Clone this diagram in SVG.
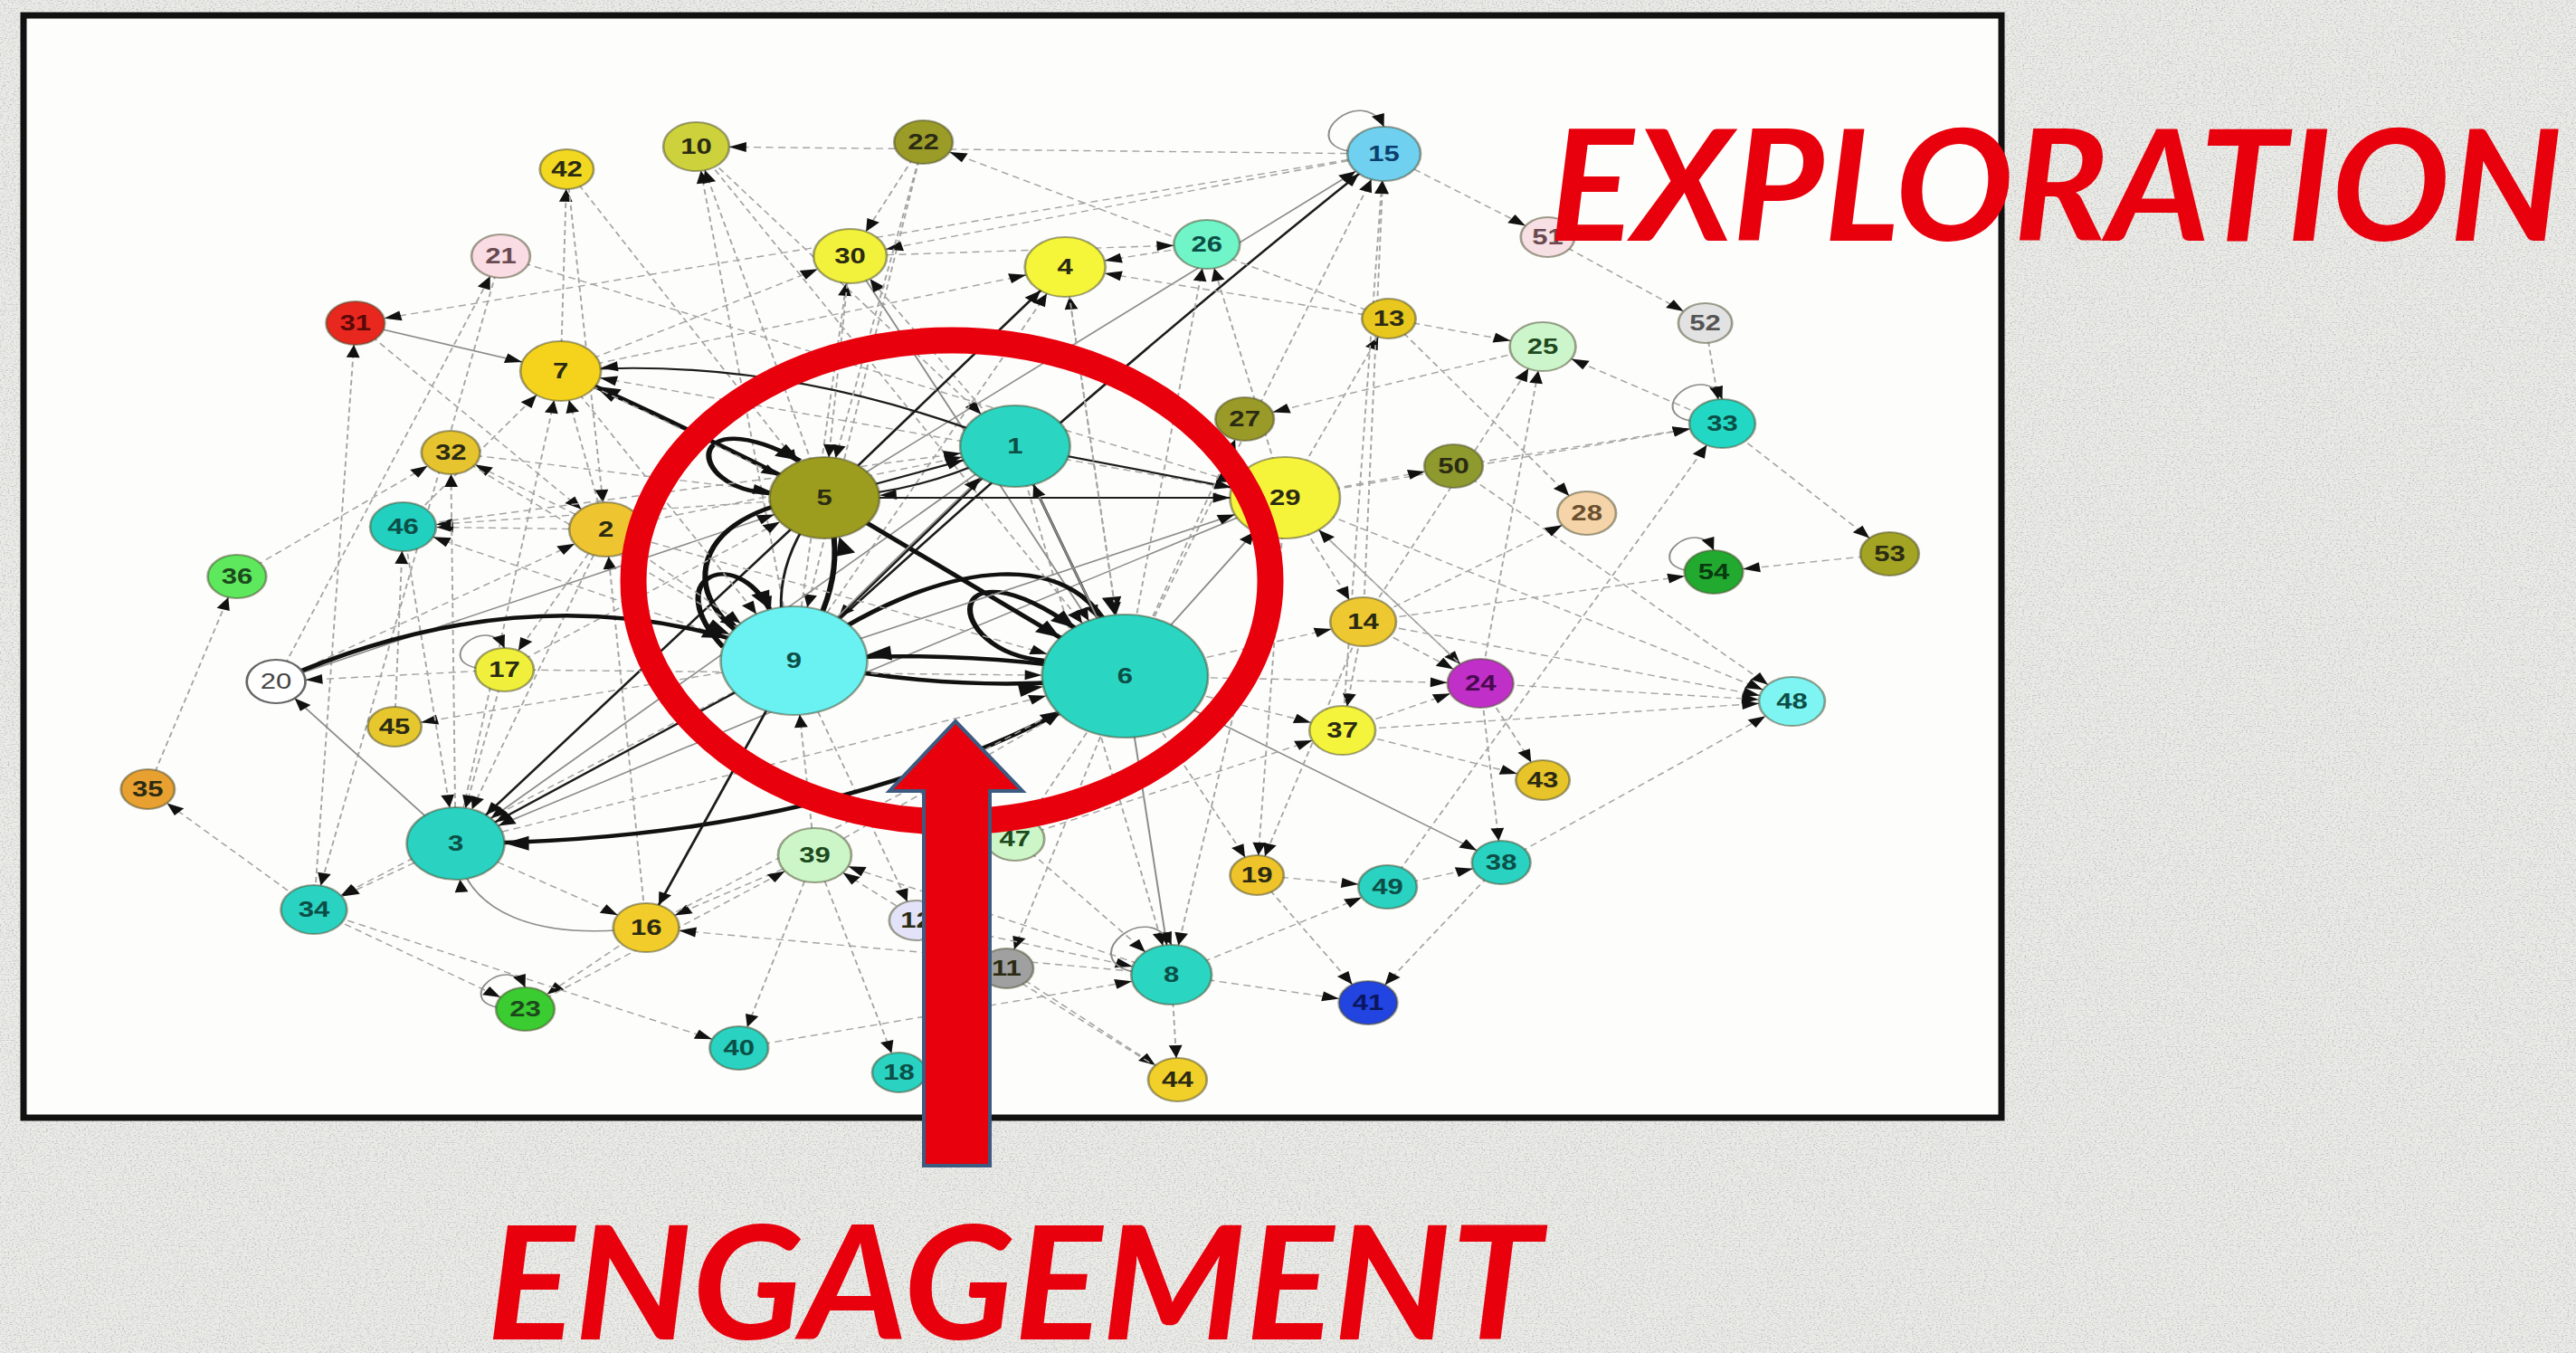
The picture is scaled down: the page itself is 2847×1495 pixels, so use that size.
<svg xmlns="http://www.w3.org/2000/svg" width="2847" height="1495" viewBox="0 0 2847 1495">
<defs>
  <filter id="grain" x="0" y="0" width="100%" height="100%">
    <feTurbulence type="fractalNoise" baseFrequency="0.45 0.85" numOctaves="3" seed="7" result="t"/>
    <feColorMatrix in="t" type="matrix" values="0 0 0 0 0.5  0 0 0 0 0.5  0 0 0 0 0.49  0 0 0 -2.4 1.25"/>
  </filter>
  <marker id="a0" viewBox="-15 -6 15 12" refX="0" refY="0" markerWidth="15" markerHeight="12" markerUnits="userSpaceOnUse" orient="auto"><path d="M0,0 L-14,-5.5 L-14,5.5z" fill="#111"/></marker>
  <marker id="a22" viewBox="-15 -6 15 12" refX="22" refY="0" markerWidth="15" markerHeight="12" markerUnits="userSpaceOnUse" orient="auto"><path d="M0,0 L-14,-5.5 L-14,5.5z" fill="#111"/></marker>
  <marker id="a24" viewBox="-15 -6 15 12" refX="24" refY="0" markerWidth="15" markerHeight="12" markerUnits="userSpaceOnUse" orient="auto"><path d="M0,0 L-14,-5.5 L-14,5.5z" fill="#111"/></marker>
  <marker id="a27" viewBox="-15 -6 15 12" refX="27" refY="0" markerWidth="15" markerHeight="12" markerUnits="userSpaceOnUse" orient="auto"><path d="M0,0 L-14,-5.5 L-14,5.5z" fill="#111"/></marker>
  <marker id="a30" viewBox="-15 -6 15 12" refX="30" refY="0" markerWidth="15" markerHeight="12" markerUnits="userSpaceOnUse" orient="auto"><path d="M0,0 L-14,-5.5 L-14,5.5z" fill="#111"/></marker>
  <marker id="a33" viewBox="-15 -6 15 12" refX="33" refY="0" markerWidth="15" markerHeight="12" markerUnits="userSpaceOnUse" orient="auto"><path d="M0,0 L-14,-5.5 L-14,5.5z" fill="#111"/></marker>
  <marker id="a40" viewBox="-15 -6 15 12" refX="40" refY="0" markerWidth="15" markerHeight="12" markerUnits="userSpaceOnUse" orient="auto"><path d="M0,0 L-14,-5.5 L-14,5.5z" fill="#111"/></marker>
  <marker id="a45" viewBox="-15 -6 15 12" refX="45" refY="0" markerWidth="15" markerHeight="12" markerUnits="userSpaceOnUse" orient="auto"><path d="M0,0 L-14,-5.5 L-14,5.5z" fill="#111"/></marker>
  <marker id="a60" viewBox="-15 -6 15 12" refX="60" refY="0" markerWidth="15" markerHeight="12" markerUnits="userSpaceOnUse" orient="auto"><path d="M0,0 L-14,-5.5 L-14,5.5z" fill="#111"/></marker>
  <marker id="a68" viewBox="-15 -6 15 12" refX="68" refY="0" markerWidth="15" markerHeight="12" markerUnits="userSpaceOnUse" orient="auto"><path d="M0,0 L-14,-5.5 L-14,5.5z" fill="#111"/></marker>
  <marker id="b0" viewBox="-22 -9 22 18" refX="0" refY="0" markerWidth="22" markerHeight="18" markerUnits="userSpaceOnUse" orient="auto"><path d="M0,0 L-20,-8 L-20,8z" fill="#111"/></marker>
  <marker id="b33" viewBox="-22 -9 22 18" refX="33" refY="0" markerWidth="22" markerHeight="18" markerUnits="userSpaceOnUse" orient="auto"><path d="M0,0 L-20,-8 L-20,8z" fill="#111"/></marker>
  <marker id="b40" viewBox="-22 -9 22 18" refX="40" refY="0" markerWidth="22" markerHeight="18" markerUnits="userSpaceOnUse" orient="auto"><path d="M0,0 L-20,-8 L-20,8z" fill="#111"/></marker>
  <marker id="b45" viewBox="-22 -9 22 18" refX="45" refY="0" markerWidth="22" markerHeight="18" markerUnits="userSpaceOnUse" orient="auto"><path d="M0,0 L-20,-8 L-20,8z" fill="#111"/></marker>
  <marker id="b60" viewBox="-22 -9 22 18" refX="60" refY="0" markerWidth="22" markerHeight="18" markerUnits="userSpaceOnUse" orient="auto"><path d="M0,0 L-20,-8 L-20,8z" fill="#111"/></marker>
  <marker id="b68" viewBox="-22 -9 22 18" refX="68" refY="0" markerWidth="22" markerHeight="18" markerUnits="userSpaceOnUse" orient="auto"><path d="M0,0 L-20,-8 L-20,8z" fill="#111"/></marker>
</defs>
<style>
  .e{fill:none;stroke:#a4a4a4;stroke-width:1.4;stroke-dasharray:6 4}
  .s{fill:none;stroke:#8c8c8c;stroke-width:1.5}
  .k{fill:none;stroke:#1c1c1c;stroke-width:2.2}
  .K{fill:none;stroke:#111;stroke-width:4.5}
  .node circle{stroke:rgba(70,70,40,.5);stroke-width:2}
  .node text{font-family:"Liberation Sans",Arial,sans-serif;font-size:23px;font-weight:bold;text-anchor:middle;dominant-baseline:central;fill:#2b2b14}
  .t text{fill:#0c4f47}
  .g text{fill:#1d4a1d}
  .b text{fill:#0b3f6e}
  .big{font-family:Lato,"Liberation Sans",Arial,sans-serif;font-weight:bold;font-style:italic;fill:#e8000c}
</style>

<!-- textured slide background -->
<rect x="0" y="0" width="2847" height="1495" fill="#ebebe8"/>
<rect x="0" y="0" width="2847" height="1495" filter="url(#grain)"/>

<!-- white panel holding the network -->
<rect x="26" y="17" width="2186" height="1218" fill="#fdfdfb" stroke="#111" stroke-width="7"/>

<!-- network: drawn with round nodes, stretched horizontally -->
<g transform="scale(1.35 1)">
<g id="edges">
<path class="e" d="M121 872 L194 637" marker-end="url(#a24)"/>
<path class="e" d="M257 1005 L121 872" marker-end="url(#a22)"/>
<path class="e" d="M373 932 L257 1005" marker-end="url(#a27)"/>
<path class="e" d="M650 730 L257 1005" marker-end="url(#a27)"/>
<path class="e" d="M410 283 L257 1005" marker-end="url(#a27)"/>
<path class="e" d="M257 1005 L430 1115" marker-end="url(#a24)"/>
<path class="e" d="M529 1025 L430 1115" marker-end="url(#a24)"/>
<path class="e" d="M373 932 L529 1025" marker-end="url(#a27)"/>
<path class="s" d="M529 1025 C440 1040 380 1010 373 932" marker-end="url(#a40)"/>
<path class="e" d="M257 1005 L605 1158" marker-end="url(#a24)"/>
<path class="e" d="M667 945 L605 1158" marker-end="url(#a24)"/>
<path class="e" d="M667 945 L529 1025" marker-end="url(#a27)"/>
<path class="e" d="M959 1077 L529 1025" marker-end="url(#a27)"/>
<path class="e" d="M650 730 L750 1017" marker-end="url(#a22)"/>
<path class="e" d="M667 945 L736 1185" marker-end="url(#a22)"/>
<path class="e" d="M921 747 L824 1070" marker-end="url(#a22)"/>
<path class="e" d="M824 1070 L964 1193" marker-end="url(#a24)"/>
<path class="e" d="M959 1077 L964 1193" marker-end="url(#a24)"/>
<path class="e" d="M831 493 L959 1077" marker-end="url(#a33)"/>
<path class="e" d="M1052 550 L959 1077" marker-end="url(#a33)"/>
<path class="s" d="M921 747 L959 1077" marker-end="url(#a33)"/>
<path class="e" d="M750 1017 L959 1077" marker-end="url(#a33)"/>
<path class="e" d="M605 1158 L959 1077" marker-end="url(#a33)"/>
<path class="e" d="M959 1077 L1120 1108" marker-end="url(#a24)"/>
<path class="e" d="M1229 953 L1120 1108" marker-end="url(#a24)"/>
<path class="e" d="M1029 967 L1120 1108" marker-end="url(#a24)"/>
<path class="e" d="M959 1077 L1136 980" marker-end="url(#a24)"/>
<path class="e" d="M1136 980 L1229 953" marker-end="url(#a24)"/>
<path class="e" d="M1212 755 L1229 953" marker-end="url(#a24)"/>
<path class="s" d="M921 747 L1229 953" marker-end="url(#a24)"/>
<path class="e" d="M1029 967 L1136 980" marker-end="url(#a24)"/>
<path class="e" d="M921 747 L1029 967" marker-end="url(#a22)"/>
<path class="e" d="M1116 687 L1029 967" marker-end="url(#a22)"/>
<path class="e" d="M1052 550 L1029 967" marker-end="url(#a22)"/>
<path class="e" d="M1099 807 L1263 862" marker-end="url(#a22)"/>
<path class="e" d="M1212 755 L1263 862" marker-end="url(#a22)"/>
<path class="e" d="M1116 687 L1099 807" marker-end="url(#a27)"/>
<path class="e" d="M921 747 L1099 807" marker-end="url(#a27)"/>
<path class="e" d="M831 927 L1099 807" marker-end="url(#a27)"/>
<path class="e" d="M1116 687 L1212 755" marker-end="url(#a27)"/>
<path class="e" d="M1099 807 L1212 755" marker-end="url(#a27)"/>
<path class="e" d="M1052 550 L1212 755" marker-end="url(#a27)"/>
<path class="e" d="M921 747 L1212 755" marker-end="url(#a27)"/>
<path class="e" d="M1212 755 L1467 775" marker-end="url(#a27)"/>
<path class="e" d="M1116 687 L1467 775" marker-end="url(#a27)"/>
<path class="e" d="M1052 550 L1467 775" marker-end="url(#a27)"/>
<path class="e" d="M1190 515 L1467 775" marker-end="url(#a27)"/>
<path class="e" d="M1229 953 L1467 775" marker-end="url(#a27)"/>
<path class="e" d="M1099 807 L1467 775" marker-end="url(#a27)"/>
<path class="e" d="M1052 550 L1116 687" marker-end="url(#a27)"/>
<path class="e" d="M921 747 L1116 687" marker-end="url(#a27)"/>
<path class="e" d="M1116 687 L1299 567" marker-end="url(#a24)"/>
<path class="e" d="M1137 352 L1299 567" marker-end="url(#a24)"/>
<path class="e" d="M1052 550 L1137 352" marker-end="url(#a22)"/>
<path class="e" d="M1190 515 L1410 468" marker-end="url(#a27)"/>
<path class="e" d="M1052 550 L1410 468" marker-end="url(#a27)"/>
<path class="e" d="M1136 980 L1410 468" marker-end="url(#a27)"/>
<path class="e" d="M1410 468 L1547 612" marker-end="url(#a24)"/>
<path class="e" d="M1547 612 L1403 632" marker-end="url(#a24)"/>
<path class="e" d="M1116 687 L1403 632" marker-end="url(#a24)"/>
<path class="e" d="M1396 357 L1410 468" marker-end="url(#a27)"/>
<path class="e" d="M1267 262 L1396 357" marker-end="url(#a22)"/>
<path class="e" d="M1133 170 L1267 262" marker-end="url(#a22)"/>
<path class="e" d="M1410 468 L1263 383" marker-end="url(#a27)"/>
<path class="e" d="M1137 352 L1263 383" marker-end="url(#a27)"/>
<path class="e" d="M1116 687 L1263 383" marker-end="url(#a27)"/>
<path class="e" d="M1212 755 L1263 383" marker-end="url(#a27)"/>
<path class="e" d="M1263 383 L1019 463" marker-end="url(#a24)"/>
<path class="e" d="M1052 550 L1190 515" marker-end="url(#a24)"/>
<path class="e" d="M1212 755 L1052 550" marker-end="url(#a45)"/>
<path class="e" d="M1116 687 L1133 170" marker-end="url(#a30)"/>
<path class="e" d="M1099 807 L1133 170" marker-end="url(#a30)"/>
<path class="e" d="M921 747 L1133 170" marker-end="url(#a30)"/>
<path class="k" d="M650 730 Q900 420 1133 170" marker-end="url(#a30)"/>
<path class="s" d="M675 550 L1133 170" marker-end="url(#a30)"/>
<path class="e" d="M1133 170 L570 162" marker-end="url(#a27)"/>
<path class="e" d="M1133 170 L291 357" marker-end="url(#a24)"/>
<path class="e" d="M1137 352 L872 295" marker-end="url(#a33)"/>
<path class="e" d="M988 270 L872 295" marker-end="url(#a33)"/>
<path class="e" d="M921 747 L988 270" marker-end="url(#a27)"/>
<path class="e" d="M1052 550 L988 270" marker-end="url(#a27)"/>
<path class="e" d="M696 283 L988 270" marker-end="url(#a27)"/>
<path class="e" d="M1137 352 L756 157" marker-end="url(#a24)"/>
<path class="e" d="M756 157 L696 283" marker-end="url(#a30)"/>
<path class="e" d="M756 157 L650 730" marker-end="url(#a60)"/>
<path class="e" d="M650 730 L570 162" marker-end="url(#a27)"/>
<path class="e" d="M675 550 L570 162" marker-end="url(#a27)"/>
<path class="e" d="M570 162 L831 493" marker-end="url(#a45)"/>
<path class="e" d="M570 162 L921 747" marker-end="url(#a68)"/>
<path class="e" d="M1133 170 L696 283" marker-end="url(#a30)"/>
<path class="e" d="M459 410 L696 283" marker-end="url(#a30)"/>
<path class="s" d="M696 283 L921 747" marker-end="url(#a68)"/>
<path class="e" d="M650 730 L696 283" marker-end="url(#a30)"/>
<path class="e" d="M831 493 L696 283" marker-end="url(#a30)"/>
<path class="k" d="M675 550 L872 295" marker-end="url(#a33)"/>
<path class="e" d="M650 730 L872 295" marker-end="url(#a33)"/>
<path class="e" d="M921 747 L872 295" marker-end="url(#a33)"/>
<path class="e" d="M459 410 L872 295" marker-end="url(#a33)"/>
<path class="s" d="M291 357 L459 410" marker-end="url(#a33)"/>
<path class="e" d="M291 357 L496 585" marker-end="url(#a30)"/>
<path class="e" d="M257 1005 L291 357" marker-end="url(#a24)"/>
<path class="e" d="M226 753 L410 283" marker-end="url(#a24)"/>
<path class="e" d="M410 283 L1052 550" marker-end="url(#a45)"/>
<path class="e" d="M459 410 L464 187" marker-end="url(#a22)"/>
<path class="e" d="M464 187 L675 550" marker-end="url(#a45)"/>
<path class="K" d="M675 550 Q560 470 459 410" marker-end="url(#b33)"/>
<path class="k" d="M831 493 Q640 390 459 410" marker-end="url(#a33)"/>
<path class="e" d="M1052 550 L459 410" marker-end="url(#a33)"/>
<path class="e" d="M496 585 L459 410" marker-end="url(#a33)"/>
<path class="e" d="M330 582 L459 410" marker-end="url(#a33)"/>
<path class="e" d="M373 932 L459 410" marker-end="url(#a33)"/>
<path class="e" d="M464 187 L496 585" marker-end="url(#a30)"/>
<path class="e" d="M496 585 L330 582" marker-end="url(#a27)"/>
<path class="e" d="M675 550 L330 582" marker-end="url(#a27)"/>
<path class="e" d="M650 730 L330 582" marker-end="url(#a27)"/>
<path class="e" d="M323 803 L330 582" marker-end="url(#a27)"/>
<path class="e" d="M373 932 L369 500" marker-end="url(#a24)"/>
<path class="e" d="M496 585 L369 500" marker-end="url(#a24)"/>
<path class="e" d="M194 637 L369 500" marker-end="url(#a24)"/>
<path class="e" d="M369 500 L675 550" marker-end="url(#a45)"/>
<path class="e" d="M226 753 L496 585" marker-end="url(#a30)"/>
<path class="e" d="M529 1025 L496 585" marker-end="url(#a30)"/>
<path class="e" d="M496 585 L413 740" marker-end="url(#a24)"/>
<path class="e" d="M413 740 L226 753" marker-end="url(#a24)"/>
<path class="s" d="M373 932 L226 753" marker-end="url(#a24)"/>
<path class="s" d="M226 753 L675 550" marker-end="url(#a45)"/>
<path class="e" d="M650 730 L323 803" marker-end="url(#a22)"/>
<path class="k" d="M650 730 L373 932" marker-end="url(#a40)"/>
<path class="k" d="M675 550 L373 932" marker-end="url(#a40)"/>
<path class="s" d="M831 493 L373 932" marker-end="url(#a40)"/>
<path class="s" d="M1052 550 L373 932" marker-end="url(#a40)"/>
<path class="K" d="M921 747 Q700 930 373 932" marker-end="url(#b40)"/>
<path class="e" d="M496 585 L373 932" marker-end="url(#a40)"/>
<path class="e" d="M413 740 L373 932" marker-end="url(#a40)"/>
<path class="e" d="M330 582 L373 932" marker-end="url(#a40)"/>
<path class="k" d="M650 730 L529 1025" marker-end="url(#a27)"/>
<path class="e" d="M959 1077 L667 945" marker-end="url(#a30)"/>
<path class="e" d="M964 1193 L667 945" marker-end="url(#a30)"/>
<path class="e" d="M430 1115 L667 945" marker-end="url(#a30)"/>
<path class="e" d="M667 945 L921 747" marker-end="url(#a68)"/>
<path class="e" d="M921 747 L831 927" marker-end="url(#a24)"/>
<path class="e" d="M831 927 L959 1077" marker-end="url(#a33)"/>
<!-- core cluster -->
<path class="K" d="M630 545 C560 540 560 440 655 509" marker-end="url(#b0)"/>
<path class="K" d="M592 715 C540 640 600 600 630 673" marker-end="url(#b0)"/>
<path class="K" d="M855 730 C770 720 770 590 880 694" marker-end="url(#b0)"/>
<path class="K" d="M650 730 Q700 640 675 550" marker-end="url(#b45)"/>
<path class="k" d="M675 550 Q620 640 650 730" marker-end="url(#a60)"/>
<path class="K" d="M675 550 C560 560 540 680 650 730" marker-end="url(#b60)"/>
<path class="K" d="M675 550 L921 747" marker-end="url(#b68)"/>
<path class="K" d="M650 730 Q790 770 921 747" marker-end="url(#b68)"/>
<path class="K" d="M921 747 Q790 715 650 730" marker-end="url(#b60)"/>
<path class="K" d="M650 730 C760 620 900 580 921 747" marker-end="url(#b68)"/>
<path class="k" d="M831 493 L921 747" marker-end="url(#a68)"/>
<path class="k" d="M831 493 L650 730" marker-end="url(#a60)"/>
<path class="s" d="M650 730 Q760 580 831 493" marker-end="url(#a45)"/>
<path class="k" d="M675 550 L831 493" marker-end="url(#a45)"/>
<path class="k" d="M831 493 Q760 545 675 550" marker-end="url(#a45)"/>
<path class="k" d="M831 493 L1052 550" marker-end="url(#a45)"/>
<path class="k" d="M675 550 L1052 550" marker-end="url(#a45)"/>
<path class="s" d="M650 730 L1052 550" marker-end="url(#a45)"/>
<path class="s" d="M921 747 L1052 550" marker-end="url(#a45)"/>
<path class="s" d="M921 747 L831 493" marker-end="url(#a45)"/>
<path class="e" d="M330 582 L831 493" marker-end="url(#a45)"/>
<path class="e" d="M496 585 L831 493" marker-end="url(#a45)"/>
<path class="e" d="M496 585 L921 747" marker-end="url(#a68)"/>
<path class="e" d="M413 740 L921 747" marker-end="url(#a68)"/>
<path class="e" d="M373 932 L921 747" marker-end="url(#a68)"/>
<path class="e" d="M529 1025 L921 747" marker-end="url(#a68)"/>
<path class="e" d="M921 747 L1019 463" marker-end="url(#a24)"/>
<path class="e" d="M872 295 L921 747" marker-end="url(#a68)"/>
<path class="e" d="M459 410 L675 550" marker-end="url(#a45)"/>
<path class="e" d="M696 283 L675 550" marker-end="url(#a45)"/>
<path class="e" d="M756 157 L675 550" marker-end="url(#a45)"/>
<path class="e" d="M413 740 L675 550" marker-end="url(#a45)"/>
<path class="e" d="M459 410 L650 730" marker-end="url(#a60)"/>
<path class="e" d="M496 585 L650 730" marker-end="url(#a60)"/>
<path class="e" d="M369 500 L650 730" marker-end="url(#a60)"/>
<path class="K" d="M226 753 Q450 620 650 730" marker-end="url(#b60)"/>
<path class="e" d="M667 945 L650 730" marker-end="url(#a60)"/>
<!-- self loops -->
<path class="s" d="M1104 167 C1061 155 1115 92 1133 140" marker-end="url(#a0)"/>
<path class="s" d="M1384 465 C1345 454 1394 398 1410 441" marker-end="url(#a0)"/>
<path class="s" d="M1380 630 C1345 620 1389 570 1403 608" marker-end="url(#a0)"/>
<path class="s" d="M390 738 C355 728 399 678 413 716" marker-end="url(#a0)"/>
<path class="s" d="M407 1113 C372 1103 416 1053 430 1091" marker-end="url(#a0)"/>
<path class="s" d="M928 1074 C880 1060 939 991 959 1044" marker-end="url(#a0)"/>
</g>

<g id="nodes">
<g id="n1" class="node t"><circle cx="831" cy="493" r="45" fill="#2ad6c2"/><text x="831" y="493">1</text></g>
<g id="n2" class="node"><circle cx="496" cy="585" r="30" fill="#eec431"/><text x="496" y="585">2</text></g>
<g id="n3" class="node t"><circle cx="373" cy="932" r="40" fill="#2ad2c2"/><text x="373" y="932">3</text></g>
<g id="n4" class="node"><circle cx="872" cy="295" r="33" fill="#f5f53a"/><text x="872" y="295">4</text></g>
<g id="n5" class="node"><circle cx="675" cy="550" r="45" fill="#9c9c1e"/><text x="675" y="550">5</text></g>
<g id="n6" class="node t"><circle cx="921" cy="747" r="68" fill="#2ad6c2"/><text x="921" y="747">6</text></g>
<g id="n7" class="node"><circle cx="459" cy="410" r="33" fill="#f5d31c"/><text x="459" y="410">7</text></g>
<g id="n8" class="node t"><circle cx="959" cy="1077" r="33" fill="#2ad6c2"/><text x="959" y="1077">8</text></g>
<g id="n9" class="node t"><circle cx="650" cy="730" r="60" fill="#6af2f2"/><text x="650" y="730">9</text></g>
<g id="n10" class="node"><circle cx="570" cy="162" r="27" fill="#cdd23c"/><text x="570" y="162">10</text></g>
<g id="n11" class="node"><circle cx="824" cy="1070" r="22" fill="#a0a0a0"/><text x="824" y="1070">11</text></g>
<g id="n12" class="node"><circle cx="750" cy="1017" r="22" fill="#e2e2f8"/><text x="750" y="1017">12</text></g>
<g id="n13" class="node"><circle cx="1137" cy="352" r="22" fill="#e8c81e"/><text x="1137" y="352">13</text></g>
<g id="n14" class="node"><circle cx="1116" cy="687" r="27" fill="#eec830"/><text x="1116" y="687">14</text></g>
<g id="n15" class="node b"><circle cx="1133" cy="170" r="30" fill="#6fd0f0"/><text x="1133" y="170">15</text></g>
<g id="n16" class="node"><circle cx="529" cy="1025" r="27" fill="#f2cc2a"/><text x="529" y="1025">16</text></g>
<g id="n17" class="node"><circle cx="413" cy="740" r="24" fill="#f0f03c"/><text x="413" y="740">17</text></g>
<g id="n18" class="node t"><circle cx="736" cy="1185" r="22" fill="#2ad2c2"/><text x="736" y="1185">18</text></g>
<g id="n19" class="node"><circle cx="1029" cy="967" r="22" fill="#eec42a"/><text x="1029" y="967">19</text></g>
<g id="n20" class="node"><circle cx="226" cy="753" r="24" fill="#ffffff" style="stroke:#666"/><text x="226" y="753" style="fill:#444;font-weight:normal">20</text></g>
<g id="n21" class="node"><circle cx="410" cy="283" r="24" fill="#f9dce4"/><text x="410" y="283" style="fill:#6a4a50">21</text></g>
<g id="n22" class="node"><circle cx="756" cy="157" r="24" fill="#9b9b28"/><text x="756" y="157">22</text></g>
<g id="n23" class="node g"><circle cx="430" cy="1115" r="24" fill="#3acc30"/><text x="430" y="1115">23</text></g>
<g id="n24" class="node"><circle cx="1212" cy="755" r="27" fill="#c030c8"/><text x="1212" y="755" style="fill:#4a0a50">24</text></g>
<g id="n25" class="node g"><circle cx="1263" cy="383" r="27" fill="#ccf5cc"/><text x="1263" y="383">25</text></g>
<g id="n26" class="node t"><circle cx="988" cy="270" r="27" fill="#70f5c8"/><text x="988" y="270">26</text></g>
<g id="n27" class="node"><circle cx="1019" cy="463" r="24" fill="#9a9a28"/><text x="1019" y="463">27</text></g>
<g id="n28" class="node"><circle cx="1299" cy="567" r="24" fill="#f4d4a8"/><text x="1299" y="567" style="fill:#6a5030">28</text></g>
<g id="n29" class="node"><circle cx="1052" cy="550" r="45" fill="#f6f43a"/><text x="1052" y="550">29</text></g>
<g id="n30" class="node"><circle cx="696" cy="283" r="30" fill="#f2f23c"/><text x="696" y="283">30</text></g>
<g id="n31" class="node"><circle cx="291" cy="357" r="24" fill="#e8281e"/><text x="291" y="357" style="fill:#5a0808">31</text></g>
<g id="n32" class="node"><circle cx="369" cy="500" r="24" fill="#e6c430"/><text x="369" y="500">32</text></g>
<g id="n33" class="node t"><circle cx="1410" cy="468" r="27" fill="#22d8c4"/><text x="1410" y="468">33</text></g>
<g id="n34" class="node t"><circle cx="257" cy="1005" r="27" fill="#2ad2c2"/><text x="257" y="1005">34</text></g>
<g id="n35" class="node"><circle cx="121" cy="872" r="22" fill="#e8a030"/><text x="121" y="872">35</text></g>
<g id="n36" class="node g"><circle cx="194" cy="637" r="24" fill="#5ee85e"/><text x="194" y="637">36</text></g>
<g id="n37" class="node"><circle cx="1099" cy="807" r="27" fill="#f4f43c"/><text x="1099" y="807">37</text></g>
<g id="n38" class="node t"><circle cx="1229" cy="953" r="24" fill="#2ad2c2"/><text x="1229" y="953">38</text></g>
<g id="n39" class="node g"><circle cx="667" cy="945" r="30" fill="#ccf6c8"/><text x="667" y="945">39</text></g>
<g id="n40" class="node t"><circle cx="605" cy="1158" r="24" fill="#2ad2c2"/><text x="605" y="1158">40</text></g>
<g id="n41" class="node"><circle cx="1120" cy="1108" r="24" fill="#2244e0"/><text x="1120" y="1108" style="fill:#0a1760">41</text></g>
<g id="n42" class="node"><circle cx="464" cy="187" r="22" fill="#f2d820"/><text x="464" y="187">42</text></g>
<g id="n43" class="node"><circle cx="1263" cy="862" r="22" fill="#e6c42a"/><text x="1263" y="862">43</text></g>
<g id="n44" class="node"><circle cx="964" cy="1193" r="24" fill="#f2d02a"/><text x="964" y="1193">44</text></g>
<g id="n45" class="node"><circle cx="323" cy="803" r="22" fill="#e6c82e"/><text x="323" y="803">45</text></g>
<g id="n46" class="node t"><circle cx="330" cy="582" r="27" fill="#22d0c0"/><text x="330" y="582">46</text></g>
<g id="n47" class="node g"><circle cx="831" cy="927" r="24" fill="#ccf6c8"/><text x="831" y="927">47</text></g>
<g id="n48" class="node t"><circle cx="1467" cy="775" r="27" fill="#7ef5f2"/><text x="1467" y="775">48</text></g>
<g id="n49" class="node t"><circle cx="1136" cy="980" r="24" fill="#2ad2c2"/><text x="1136" y="980">49</text></g>
<g id="n50" class="node"><circle cx="1190" cy="515" r="24" fill="#8f9a2e"/><text x="1190" y="515">50</text></g>
<g id="n51" class="node"><circle cx="1267" cy="262" r="22" fill="#f7e0e4"/><text x="1267" y="262" style="fill:#6a4a50">51</text></g>
<g id="n52" class="node"><circle cx="1396" cy="357" r="22" fill="#e2e2e2"/><text x="1396" y="357" style="fill:#555">52</text></g>
<g id="n53" class="node"><circle cx="1547" cy="612" r="24" fill="#a4a424"/><text x="1547" y="612">53</text></g>
<g id="n54" class="node g"><circle cx="1403" cy="632" r="24" fill="#22aa30"/><text x="1403" y="632" style="fill:#0a3a10">54</text></g>
</g>
</g>

<!-- highlight ring around the core cluster -->
<ellipse cx="1052" cy="642" rx="352" ry="266" fill="none" stroke="#e8000c" stroke-width="29"/>

<!-- upward block arrow -->
<polygon points="1056,797 1130,874 1094,874 1094,1288 1021,1288 1021,874 983,874" fill="#e8000c" stroke="#3d5a80" stroke-width="4" stroke-linejoin="miter"/>

<!-- captions -->
<text class="big" x="1712" y="266" font-size="170" textLength="1120" lengthAdjust="spacingAndGlyphs">EXPLORATION</text>
<text class="big" x="538" y="1480" font-size="174" textLength="1166" lengthAdjust="spacingAndGlyphs">ENGAGEMENT</text>
</svg>
